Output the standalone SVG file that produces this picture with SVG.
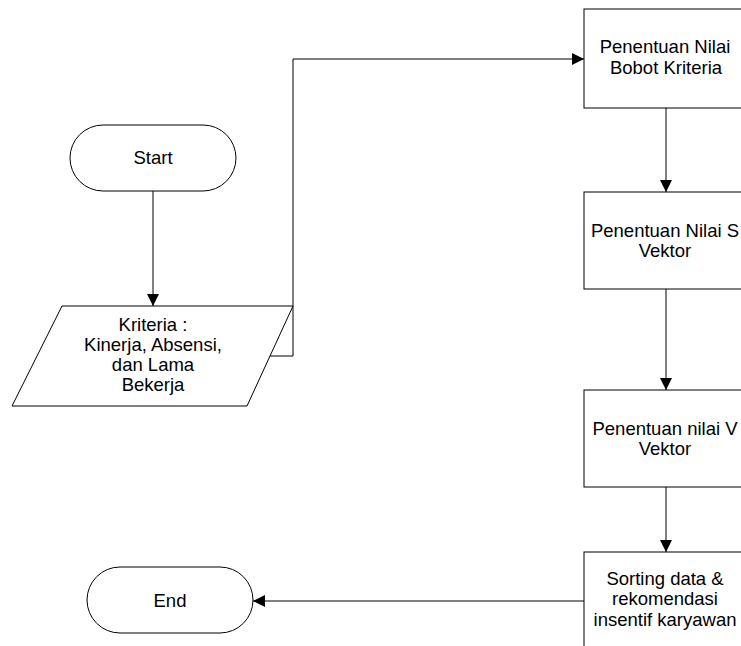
<svg xmlns="http://www.w3.org/2000/svg" width="741" height="646" viewBox="0 0 741 646">
<style>
.shape{fill:#fff;stroke:#000;stroke-width:1}
.conn{fill:none;stroke:#000;stroke-width:1}
text{font-family:"Liberation Sans",Arial,sans-serif;font-size:18.5px;fill:#000;text-anchor:middle}
</style>
<defs>
<marker id="arr" viewBox="0 0 10 10" refX="10" refY="5" markerWidth="12" markerHeight="12" markerUnits="userSpaceOnUse" orient="auto">
<path d="M0,0 L10,5 L0,10 Z" fill="#000"/>
</marker>
</defs>
<rect width="741" height="646" fill="#fff"/>
<g id="connectors">
<path class="conn" d="M153,191 V306" marker-end="url(#arr)"/>
<path class="conn" d="M268,356 H293 V59 H584" marker-end="url(#arr)"/>
<path class="conn" d="M666,108 V192" marker-end="url(#arr)"/>
<path class="conn" d="M666,289 V390" marker-end="url(#arr)"/>
<path class="conn" d="M666,487 V552" marker-end="url(#arr)"/>
<path class="conn" d="M584,601 H253" marker-end="url(#arr)"/>
</g>
<g id="start">
<rect class="shape" x="70" y="125" width="166" height="66" rx="33" ry="33"/>
<text x="153" y="164">Start</text>
</g>
<g id="kriteria">
<polygon class="shape" points="62,306 293,306 247,406 12,406"/>
<text x="153" y="331">Kriteria :</text>
<text x="153" y="351">Kinerja, Absensi,</text>
<text x="153" y="371">dan Lama</text>
<text x="153" y="391">Bekerja</text>
</g>
<g id="bobot">
<rect class="shape" x="584" y="9" width="164" height="99"/>
<text x="665" y="53">Penentuan Nilai</text>
<text x="666" y="74">Bobot Kriteria</text>
</g>
<g id="vektor-s">
<rect class="shape" x="584" y="192" width="164" height="97"/>
<text x="665" y="237">Penentuan Nilai S</text>
<text x="665" y="257">Vektor</text>
</g>
<g id="vektor-v">
<rect class="shape" x="584" y="390" width="164" height="97"/>
<text x="665" y="435">Penentuan nilai V</text>
<text x="665" y="455">Vektor</text>
</g>
<g id="sorting">
<rect class="shape" x="584" y="552" width="164" height="100"/>
<text x="665" y="585">Sorting data &amp;</text>
<text x="665" y="605">rekomendasi</text>
<text x="665" y="626">insentif karyawan</text>
</g>
<g id="end">
<rect class="shape" x="87" y="567" width="166" height="66" rx="33" ry="33"/>
<text x="170" y="607">End</text>
</g>
</svg>
